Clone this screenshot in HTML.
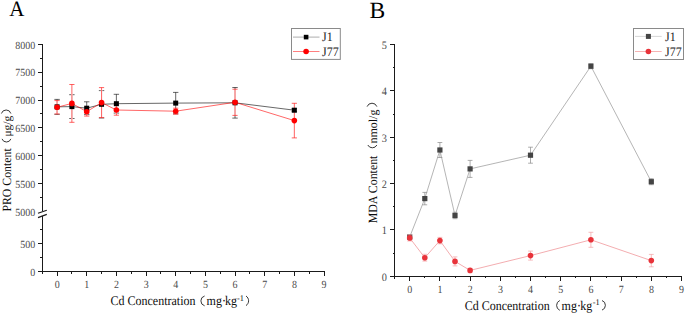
<!DOCTYPE html>
<html><head><meta charset="utf-8"><style>
html,body{margin:0;padding:0;background:#fff;}
body{width:685px;height:314px;overflow:hidden;}
svg{display:block;font-family:"Liberation Serif", serif;text-rendering:geometricPrecision;}
</style></head><body>
<svg width="685" height="314" viewBox="0 0 685 314">
<rect width="685" height="314" fill="#fff"/>
<text x="9.20" y="15.50" font-size="21" text-anchor="start" fill="#000" transform="translate(9.20,15.50) scale(1.0,1.05) translate(-9.20,-15.50)" >A</text>
<line x1="42.50" y1="43.80" x2="42.50" y2="211.00" stroke="#1a1a1a" stroke-width="1"  shape-rendering="crispEdges"/>
<line x1="42.50" y1="216.00" x2="42.50" y2="274.00" stroke="#1a1a1a" stroke-width="1"  shape-rendering="crispEdges"/>
<line x1="38.00" y1="213.30" x2="46.80" y2="210.30" stroke="#1a1a1a" stroke-width="1.2" />
<line x1="38.00" y1="217.60" x2="46.80" y2="214.40" stroke="#1a1a1a" stroke-width="1.2" />
<text x="35.20" y="215.85" font-size="10.0" text-anchor="end" fill="#4a4a4a" transform="translate(35.20,215.85) scale(1.0,1.1) translate(-35.20,-215.85)" >5000</text>
<line x1="40.00" y1="197.61" x2="42.50" y2="197.61" stroke="#1a1a1a" stroke-width="1"  shape-rendering="crispEdges"/>
<line x1="38.00" y1="183.68" x2="42.50" y2="183.68" stroke="#1a1a1a" stroke-width="1"  shape-rendering="crispEdges"/>
<text x="35.20" y="187.98" font-size="10.0" text-anchor="end" fill="#4a4a4a" transform="translate(35.20,187.98) scale(1.0,1.1) translate(-35.20,-187.98)" >5500</text>
<line x1="40.00" y1="169.74" x2="42.50" y2="169.74" stroke="#1a1a1a" stroke-width="1"  shape-rendering="crispEdges"/>
<line x1="38.00" y1="155.80" x2="42.50" y2="155.80" stroke="#1a1a1a" stroke-width="1"  shape-rendering="crispEdges"/>
<text x="35.20" y="160.10" font-size="10.0" text-anchor="end" fill="#4a4a4a" transform="translate(35.20,160.10) scale(1.0,1.1) translate(-35.20,-160.10)" >6000</text>
<line x1="40.00" y1="141.86" x2="42.50" y2="141.86" stroke="#1a1a1a" stroke-width="1"  shape-rendering="crispEdges"/>
<line x1="38.00" y1="127.92" x2="42.50" y2="127.92" stroke="#1a1a1a" stroke-width="1"  shape-rendering="crispEdges"/>
<text x="35.20" y="132.22" font-size="10.0" text-anchor="end" fill="#4a4a4a" transform="translate(35.20,132.22) scale(1.0,1.1) translate(-35.20,-132.22)" >6500</text>
<line x1="40.00" y1="113.99" x2="42.50" y2="113.99" stroke="#1a1a1a" stroke-width="1"  shape-rendering="crispEdges"/>
<line x1="38.00" y1="100.05" x2="42.50" y2="100.05" stroke="#1a1a1a" stroke-width="1"  shape-rendering="crispEdges"/>
<text x="35.20" y="104.35" font-size="10.0" text-anchor="end" fill="#4a4a4a" transform="translate(35.20,104.35) scale(1.0,1.1) translate(-35.20,-104.35)" >7000</text>
<line x1="40.00" y1="86.11" x2="42.50" y2="86.11" stroke="#1a1a1a" stroke-width="1"  shape-rendering="crispEdges"/>
<line x1="38.00" y1="72.17" x2="42.50" y2="72.17" stroke="#1a1a1a" stroke-width="1"  shape-rendering="crispEdges"/>
<text x="35.20" y="76.47" font-size="10.0" text-anchor="end" fill="#4a4a4a" transform="translate(35.20,76.47) scale(1.0,1.1) translate(-35.20,-76.47)" >7500</text>
<line x1="40.00" y1="58.24" x2="42.50" y2="58.24" stroke="#1a1a1a" stroke-width="1"  shape-rendering="crispEdges"/>
<line x1="38.00" y1="44.30" x2="42.50" y2="44.30" stroke="#1a1a1a" stroke-width="1"  shape-rendering="crispEdges"/>
<text x="35.20" y="48.60" font-size="10.0" text-anchor="end" fill="#4a4a4a" transform="translate(35.20,48.60) scale(1.0,1.1) translate(-35.20,-48.60)" >8000</text>
<line x1="38.00" y1="271.70" x2="42.50" y2="271.70" stroke="#1a1a1a" stroke-width="1"  shape-rendering="crispEdges"/>
<text x="35.20" y="276.00" font-size="10.0" text-anchor="end" fill="#4a4a4a" transform="translate(35.20,276.00) scale(1.0,1.1) translate(-35.20,-276.00)" >0</text>
<line x1="40.00" y1="257.70" x2="42.50" y2="257.70" stroke="#1a1a1a" stroke-width="1"  shape-rendering="crispEdges"/>
<line x1="38.00" y1="243.70" x2="42.50" y2="243.70" stroke="#1a1a1a" stroke-width="1"  shape-rendering="crispEdges"/>
<text x="35.20" y="248.00" font-size="10.0" text-anchor="end" fill="#4a4a4a" transform="translate(35.20,248.00) scale(1.0,1.1) translate(-35.20,-248.00)" >500</text>
<line x1="40.00" y1="229.70" x2="42.50" y2="229.70" stroke="#1a1a1a" stroke-width="1"  shape-rendering="crispEdges"/>
<line x1="42.00" y1="271.50" x2="324.80" y2="271.50" stroke="#1a1a1a" stroke-width="1"  shape-rendering="crispEdges"/>
<line x1="57.06" y1="271.50" x2="57.06" y2="275.80" stroke="#1a1a1a" stroke-width="1"  shape-rendering="crispEdges"/>
<text x="57.16" y="287.90" font-size="10.0" text-anchor="middle" fill="#4a4a4a" transform="translate(57.16,287.90) scale(1.0,1.1) translate(-57.16,-287.90)" >0</text>
<line x1="71.89" y1="271.50" x2="71.89" y2="273.50" stroke="#1a1a1a" stroke-width="1"  shape-rendering="crispEdges"/>
<line x1="86.72" y1="271.50" x2="86.72" y2="275.80" stroke="#1a1a1a" stroke-width="1"  shape-rendering="crispEdges"/>
<text x="86.82" y="287.90" font-size="10.0" text-anchor="middle" fill="#4a4a4a" transform="translate(86.82,287.90) scale(1.0,1.1) translate(-86.82,-287.90)" >1</text>
<line x1="101.55" y1="271.50" x2="101.55" y2="273.50" stroke="#1a1a1a" stroke-width="1"  shape-rendering="crispEdges"/>
<line x1="116.38" y1="271.50" x2="116.38" y2="275.80" stroke="#1a1a1a" stroke-width="1"  shape-rendering="crispEdges"/>
<text x="116.48" y="287.90" font-size="10.0" text-anchor="middle" fill="#4a4a4a" transform="translate(116.48,287.90) scale(1.0,1.1) translate(-116.48,-287.90)" >2</text>
<line x1="131.21" y1="271.50" x2="131.21" y2="273.50" stroke="#1a1a1a" stroke-width="1"  shape-rendering="crispEdges"/>
<line x1="146.04" y1="271.50" x2="146.04" y2="275.80" stroke="#1a1a1a" stroke-width="1"  shape-rendering="crispEdges"/>
<text x="146.14" y="287.90" font-size="10.0" text-anchor="middle" fill="#4a4a4a" transform="translate(146.14,287.90) scale(1.0,1.1) translate(-146.14,-287.90)" >3</text>
<line x1="160.87" y1="271.50" x2="160.87" y2="273.50" stroke="#1a1a1a" stroke-width="1"  shape-rendering="crispEdges"/>
<line x1="175.70" y1="271.50" x2="175.70" y2="275.80" stroke="#1a1a1a" stroke-width="1"  shape-rendering="crispEdges"/>
<text x="175.80" y="287.90" font-size="10.0" text-anchor="middle" fill="#4a4a4a" transform="translate(175.80,287.90) scale(1.0,1.1) translate(-175.80,-287.90)" >4</text>
<line x1="190.53" y1="271.50" x2="190.53" y2="273.50" stroke="#1a1a1a" stroke-width="1"  shape-rendering="crispEdges"/>
<line x1="205.36" y1="271.50" x2="205.36" y2="275.80" stroke="#1a1a1a" stroke-width="1"  shape-rendering="crispEdges"/>
<text x="205.46" y="287.90" font-size="10.0" text-anchor="middle" fill="#4a4a4a" transform="translate(205.46,287.90) scale(1.0,1.1) translate(-205.46,-287.90)" >5</text>
<line x1="220.19" y1="271.50" x2="220.19" y2="273.50" stroke="#1a1a1a" stroke-width="1"  shape-rendering="crispEdges"/>
<line x1="235.02" y1="271.50" x2="235.02" y2="275.80" stroke="#1a1a1a" stroke-width="1"  shape-rendering="crispEdges"/>
<text x="235.12" y="287.90" font-size="10.0" text-anchor="middle" fill="#4a4a4a" transform="translate(235.12,287.90) scale(1.0,1.1) translate(-235.12,-287.90)" >6</text>
<line x1="249.85" y1="271.50" x2="249.85" y2="273.50" stroke="#1a1a1a" stroke-width="1"  shape-rendering="crispEdges"/>
<line x1="264.68" y1="271.50" x2="264.68" y2="275.80" stroke="#1a1a1a" stroke-width="1"  shape-rendering="crispEdges"/>
<text x="264.78" y="287.90" font-size="10.0" text-anchor="middle" fill="#4a4a4a" transform="translate(264.78,287.90) scale(1.0,1.1) translate(-264.78,-287.90)" >7</text>
<line x1="279.51" y1="271.50" x2="279.51" y2="273.50" stroke="#1a1a1a" stroke-width="1"  shape-rendering="crispEdges"/>
<line x1="294.34" y1="271.50" x2="294.34" y2="275.80" stroke="#1a1a1a" stroke-width="1"  shape-rendering="crispEdges"/>
<text x="294.44" y="287.90" font-size="10.0" text-anchor="middle" fill="#4a4a4a" transform="translate(294.44,287.90) scale(1.0,1.1) translate(-294.44,-287.90)" >8</text>
<line x1="309.17" y1="271.50" x2="309.17" y2="273.50" stroke="#1a1a1a" stroke-width="1"  shape-rendering="crispEdges"/>
<line x1="324.00" y1="271.50" x2="324.00" y2="275.80" stroke="#1a1a1a" stroke-width="1"  shape-rendering="crispEdges"/>
<text x="324.10" y="287.90" font-size="10.0" text-anchor="middle" fill="#4a4a4a" transform="translate(324.10,287.90) scale(1.0,1.1) translate(-324.10,-287.90)" >9</text>
<text x="110.50" y="305.30" font-size="12" text-anchor="start" fill="#0d0d0d" transform="translate(110.50,305.30) scale(1.0,1.1) translate(-110.50,-305.30)" >Cd Concentration</text>
<path d="M204.60,296.00 A5.09,5.09 0 0 0 204.60,305.80" fill="none" stroke="#222" stroke-width="0.9"/>
<text x="206.60" y="305.30" font-size="12" text-anchor="start" fill="#0d0d0d" transform="translate(206.60,305.30) scale(1.0,1.1) translate(-206.60,-305.30)" >mg·</text>
<text x="225.00" y="305.30" font-size="12" text-anchor="start" fill="#0d0d0d" transform="translate(225.00,305.30) scale(1.0,1.1) translate(-225.00,-305.30)" >kg</text>
<text x="236.90" y="300.60" font-size="8.3" text-anchor="start" fill="#0d0d0d" transform="translate(236.90,300.60) scale(1.0,1.05) translate(-236.90,-300.60)" >-1</text>
<path d="M246.00,296.00 A5.73,5.73 0 0 1 246.00,305.60" fill="none" stroke="#222" stroke-width="0.9"/>
<text x="0" y="0" font-size="11.8" fill="#0d0d0d" transform="translate(11.30,211.60) rotate(-90) scale(1.0,1.06)">PRO Content</text>
<text x="0" y="0" font-size="11.5" fill="#0d0d0d" transform="translate(10.60,136.60) rotate(-90) scale(1.0,1.0)">μg/g</text>
<path d="M2.00,138.90 A4.74,4.74 0 0 0 10.90,138.90" fill="none" stroke="#222" stroke-width="0.9"/>
<path d="M1.40,113.50 A4.97,4.97 0 0 1 10.90,113.50" fill="none" stroke="#222" stroke-width="0.9"/>
<rect x="291.5" y="28.5" width="48.8" height="30.9" fill="#fff" stroke="#8a8a8a" stroke-width="1"/>
<line x1="293.00" y1="37.10" x2="319.50" y2="37.10" stroke="#999999" stroke-width="0.8" />
<rect x="303.8" y="34.8" width="4.6" height="4.6" fill="#000"/>
<text x="322.00" y="41.30" font-size="12" text-anchor="start" fill="#222" transform="translate(322.00,41.30) scale(1.0,1.08) translate(-322.00,-41.30)" >J1</text>
<line x1="293.00" y1="51.50" x2="319.50" y2="51.50" stroke="#ff4848" stroke-width="0.7" />
<circle cx="306.1" cy="51.5" r="2.8" fill="#ff0000"/>
<text x="322.00" y="55.70" font-size="12" text-anchor="start" fill="#222" transform="translate(322.00,55.70) scale(1.0,1.08) translate(-322.00,-55.70)" >J77</text>
<line x1="57.06" y1="99.40" x2="57.06" y2="114.30" stroke="#000" stroke-width="0.6" />
<line x1="54.36" y1="99.40" x2="59.76" y2="99.40" stroke="#000" stroke-width="0.6" />
<line x1="54.36" y1="114.30" x2="59.76" y2="114.30" stroke="#000" stroke-width="0.6" />
<line x1="71.89" y1="94.70" x2="71.89" y2="118.50" stroke="#000" stroke-width="0.6" />
<line x1="69.19" y1="94.70" x2="74.59" y2="94.70" stroke="#000" stroke-width="0.6" />
<line x1="69.19" y1="118.50" x2="74.59" y2="118.50" stroke="#000" stroke-width="0.6" />
<line x1="86.72" y1="101.80" x2="86.72" y2="114.60" stroke="#000" stroke-width="0.6" />
<line x1="84.02" y1="101.80" x2="89.42" y2="101.80" stroke="#000" stroke-width="0.6" />
<line x1="84.02" y1="114.60" x2="89.42" y2="114.60" stroke="#000" stroke-width="0.6" />
<line x1="101.55" y1="90.60" x2="101.55" y2="118.00" stroke="#000" stroke-width="0.6" />
<line x1="98.85" y1="90.60" x2="104.25" y2="90.60" stroke="#000" stroke-width="0.6" />
<line x1="98.85" y1="118.00" x2="104.25" y2="118.00" stroke="#000" stroke-width="0.6" />
<line x1="116.38" y1="94.30" x2="116.38" y2="113.10" stroke="#000" stroke-width="0.6" />
<line x1="113.68" y1="94.30" x2="119.08" y2="94.30" stroke="#000" stroke-width="0.6" />
<line x1="113.68" y1="113.10" x2="119.08" y2="113.10" stroke="#000" stroke-width="0.6" />
<line x1="175.70" y1="92.40" x2="175.70" y2="113.80" stroke="#000" stroke-width="0.6" />
<line x1="173.00" y1="92.40" x2="178.40" y2="92.40" stroke="#000" stroke-width="0.6" />
<line x1="173.00" y1="113.80" x2="178.40" y2="113.80" stroke="#000" stroke-width="0.6" />
<line x1="235.02" y1="87.50" x2="235.02" y2="118.10" stroke="#000" stroke-width="0.6" />
<line x1="232.32" y1="87.50" x2="237.72" y2="87.50" stroke="#000" stroke-width="0.6" />
<line x1="232.32" y1="118.10" x2="237.72" y2="118.10" stroke="#000" stroke-width="0.6" />
<line x1="294.34" y1="108.70" x2="294.34" y2="111.70" stroke="#000" stroke-width="0.6" />
<line x1="291.64" y1="108.70" x2="297.04" y2="108.70" stroke="#000" stroke-width="0.6" />
<line x1="291.64" y1="111.70" x2="297.04" y2="111.70" stroke="#000" stroke-width="0.6" />
<line x1="57.06" y1="100.60" x2="57.06" y2="114.00" stroke="#fff" stroke-width="1.6" />
<line x1="57.06" y1="100.60" x2="57.06" y2="114.00" stroke="#ff2020" stroke-width="0.7" />
<line x1="54.46" y1="100.60" x2="59.66" y2="100.60" stroke="#ff2020" stroke-width="0.7" />
<line x1="54.46" y1="114.00" x2="59.66" y2="114.00" stroke="#ff2020" stroke-width="0.7" />
<line x1="71.89" y1="84.50" x2="71.89" y2="122.30" stroke="#fff" stroke-width="1.6" />
<line x1="71.89" y1="84.50" x2="71.89" y2="122.30" stroke="#ff2020" stroke-width="0.7" />
<line x1="69.29" y1="84.50" x2="74.49" y2="84.50" stroke="#ff2020" stroke-width="0.7" />
<line x1="69.29" y1="122.30" x2="74.49" y2="122.30" stroke="#ff2020" stroke-width="0.7" />
<line x1="86.72" y1="107.30" x2="86.72" y2="116.10" stroke="#fff" stroke-width="1.6" />
<line x1="86.72" y1="107.30" x2="86.72" y2="116.10" stroke="#ff2020" stroke-width="0.7" />
<line x1="84.12" y1="107.30" x2="89.32" y2="107.30" stroke="#ff2020" stroke-width="0.7" />
<line x1="84.12" y1="116.10" x2="89.32" y2="116.10" stroke="#ff2020" stroke-width="0.7" />
<line x1="101.55" y1="87.60" x2="101.55" y2="117.60" stroke="#fff" stroke-width="1.6" />
<line x1="101.55" y1="87.60" x2="101.55" y2="117.60" stroke="#ff2020" stroke-width="0.7" />
<line x1="98.95" y1="87.60" x2="104.15" y2="87.60" stroke="#ff2020" stroke-width="0.7" />
<line x1="98.95" y1="117.60" x2="104.15" y2="117.60" stroke="#ff2020" stroke-width="0.7" />
<line x1="116.38" y1="104.80" x2="116.38" y2="115.20" stroke="#fff" stroke-width="1.6" />
<line x1="116.38" y1="104.80" x2="116.38" y2="115.20" stroke="#ff2020" stroke-width="0.7" />
<line x1="113.78" y1="104.80" x2="118.98" y2="104.80" stroke="#ff2020" stroke-width="0.7" />
<line x1="113.78" y1="115.20" x2="118.98" y2="115.20" stroke="#ff2020" stroke-width="0.7" />
<line x1="175.70" y1="108.20" x2="175.70" y2="114.20" stroke="#fff" stroke-width="1.6" />
<line x1="175.70" y1="108.20" x2="175.70" y2="114.20" stroke="#ff2020" stroke-width="0.7" />
<line x1="173.10" y1="108.20" x2="178.30" y2="108.20" stroke="#ff2020" stroke-width="0.7" />
<line x1="173.10" y1="114.20" x2="178.30" y2="114.20" stroke="#ff2020" stroke-width="0.7" />
<line x1="235.02" y1="89.20" x2="235.02" y2="115.40" stroke="#fff" stroke-width="1.6" />
<line x1="235.02" y1="89.20" x2="235.02" y2="115.40" stroke="#ff2020" stroke-width="0.7" />
<line x1="232.42" y1="89.20" x2="237.62" y2="89.20" stroke="#ff2020" stroke-width="0.7" />
<line x1="232.42" y1="115.40" x2="237.62" y2="115.40" stroke="#ff2020" stroke-width="0.7" />
<line x1="294.34" y1="103.30" x2="294.34" y2="137.90" stroke="#fff" stroke-width="1.6" />
<line x1="294.34" y1="103.30" x2="294.34" y2="137.90" stroke="#ff2020" stroke-width="0.7" />
<line x1="291.74" y1="103.30" x2="296.94" y2="103.30" stroke="#ff2020" stroke-width="0.7" />
<line x1="291.74" y1="137.90" x2="296.94" y2="137.90" stroke="#ff2020" stroke-width="0.7" />
<polyline points="57.06,106.85 71.89,106.60 86.72,108.20 101.55,104.30 116.38,103.70 175.70,103.10 235.02,102.80 294.34,110.20" fill="none" stroke="#000" stroke-width="0.6"/>
<polyline points="57.06,107.30 71.89,103.40 86.72,111.70 101.55,102.60 116.38,110.00 175.70,111.20 235.02,102.30 294.34,120.60" fill="none" stroke="#ff0000" stroke-width="0.6"/>
<rect x="54.56" y="104.35" width="5.0" height="5.0" fill="#000"/>
<rect x="69.39" y="104.10" width="5.0" height="5.0" fill="#000"/>
<rect x="84.22" y="105.70" width="5.0" height="5.0" fill="#000"/>
<rect x="99.05" y="101.80" width="5.0" height="5.0" fill="#000"/>
<rect x="113.88" y="101.20" width="5.0" height="5.0" fill="#000"/>
<rect x="173.20" y="100.60" width="5.0" height="5.0" fill="#000"/>
<rect x="232.52" y="100.30" width="5.0" height="5.0" fill="#000"/>
<rect x="291.84" y="107.70" width="5.0" height="5.0" fill="#000"/>
<circle cx="57.06" cy="107.30" r="2.8" fill="#ff0000"/>
<circle cx="71.89" cy="103.40" r="2.8" fill="#ff0000"/>
<circle cx="86.72" cy="111.70" r="2.8" fill="#ff0000"/>
<circle cx="101.55" cy="102.60" r="2.8" fill="#ff0000"/>
<circle cx="116.38" cy="110.00" r="2.8" fill="#ff0000"/>
<circle cx="175.70" cy="111.20" r="2.8" fill="#ff0000"/>
<circle cx="235.02" cy="102.30" r="2.8" fill="#ff0000"/>
<circle cx="294.34" cy="120.60" r="2.8" fill="#ff0000"/>
<text x="369.60" y="17.90" font-size="22" text-anchor="start" fill="#000" transform="translate(369.60,17.90) scale(1.07,1.055) translate(-369.60,-17.90)" >B</text>
<line x1="394.50" y1="44.00" x2="394.50" y2="278.50" stroke="#1a1a1a" stroke-width="1"  shape-rendering="crispEdges"/>
<line x1="390.00" y1="276.30" x2="394.50" y2="276.30" stroke="#1a1a1a" stroke-width="1"  shape-rendering="crispEdges"/>
<text x="386.90" y="280.60" font-size="10.3" text-anchor="end" fill="#4a4a4a" transform="translate(386.90,280.60) scale(1.0,1.1) translate(-386.90,-280.60)" >0</text>
<line x1="392.50" y1="253.12" x2="394.50" y2="253.12" stroke="#1a1a1a" stroke-width="1"  shape-rendering="crispEdges"/>
<line x1="390.00" y1="229.94" x2="394.50" y2="229.94" stroke="#1a1a1a" stroke-width="1"  shape-rendering="crispEdges"/>
<text x="386.90" y="234.24" font-size="10.3" text-anchor="end" fill="#4a4a4a" transform="translate(386.90,234.24) scale(1.0,1.1) translate(-386.90,-234.24)" >1</text>
<line x1="392.50" y1="206.76" x2="394.50" y2="206.76" stroke="#1a1a1a" stroke-width="1"  shape-rendering="crispEdges"/>
<line x1="390.00" y1="183.58" x2="394.50" y2="183.58" stroke="#1a1a1a" stroke-width="1"  shape-rendering="crispEdges"/>
<text x="386.90" y="187.88" font-size="10.3" text-anchor="end" fill="#4a4a4a" transform="translate(386.90,187.88) scale(1.0,1.1) translate(-386.90,-187.88)" >2</text>
<line x1="392.50" y1="160.40" x2="394.50" y2="160.40" stroke="#1a1a1a" stroke-width="1"  shape-rendering="crispEdges"/>
<line x1="390.00" y1="137.22" x2="394.50" y2="137.22" stroke="#1a1a1a" stroke-width="1"  shape-rendering="crispEdges"/>
<text x="386.90" y="141.52" font-size="10.3" text-anchor="end" fill="#4a4a4a" transform="translate(386.90,141.52) scale(1.0,1.1) translate(-386.90,-141.52)" >3</text>
<line x1="392.50" y1="114.04" x2="394.50" y2="114.04" stroke="#1a1a1a" stroke-width="1"  shape-rendering="crispEdges"/>
<line x1="390.00" y1="90.86" x2="394.50" y2="90.86" stroke="#1a1a1a" stroke-width="1"  shape-rendering="crispEdges"/>
<text x="386.90" y="95.16" font-size="10.3" text-anchor="end" fill="#4a4a4a" transform="translate(386.90,95.16) scale(1.0,1.1) translate(-386.90,-95.16)" >4</text>
<line x1="392.50" y1="67.68" x2="394.50" y2="67.68" stroke="#1a1a1a" stroke-width="1"  shape-rendering="crispEdges"/>
<line x1="390.00" y1="44.50" x2="394.50" y2="44.50" stroke="#1a1a1a" stroke-width="1"  shape-rendering="crispEdges"/>
<text x="386.90" y="48.80" font-size="10.3" text-anchor="end" fill="#4a4a4a" transform="translate(386.90,48.80) scale(1.0,1.1) translate(-386.90,-48.80)" >5</text>
<line x1="394.00" y1="276.30" x2="682.20" y2="276.30" stroke="#1a1a1a" stroke-width="1"  shape-rendering="crispEdges"/>
<line x1="409.70" y1="276.30" x2="409.70" y2="280.60" stroke="#1a1a1a" stroke-width="1"  shape-rendering="crispEdges"/>
<text x="409.80" y="292.90" font-size="10.0" text-anchor="middle" fill="#4a4a4a" transform="translate(409.80,292.90) scale(1.0,1.1) translate(-409.80,-292.90)" >0</text>
<line x1="424.80" y1="276.30" x2="424.80" y2="278.30" stroke="#1a1a1a" stroke-width="1"  shape-rendering="crispEdges"/>
<line x1="439.90" y1="276.30" x2="439.90" y2="280.60" stroke="#1a1a1a" stroke-width="1"  shape-rendering="crispEdges"/>
<text x="440.00" y="292.90" font-size="10.0" text-anchor="middle" fill="#4a4a4a" transform="translate(440.00,292.90) scale(1.0,1.1) translate(-440.00,-292.90)" >1</text>
<line x1="455.00" y1="276.30" x2="455.00" y2="278.30" stroke="#1a1a1a" stroke-width="1"  shape-rendering="crispEdges"/>
<line x1="470.10" y1="276.30" x2="470.10" y2="280.60" stroke="#1a1a1a" stroke-width="1"  shape-rendering="crispEdges"/>
<text x="470.20" y="292.90" font-size="10.0" text-anchor="middle" fill="#4a4a4a" transform="translate(470.20,292.90) scale(1.0,1.1) translate(-470.20,-292.90)" >2</text>
<line x1="485.20" y1="276.30" x2="485.20" y2="278.30" stroke="#1a1a1a" stroke-width="1"  shape-rendering="crispEdges"/>
<line x1="500.30" y1="276.30" x2="500.30" y2="280.60" stroke="#1a1a1a" stroke-width="1"  shape-rendering="crispEdges"/>
<text x="500.40" y="292.90" font-size="10.0" text-anchor="middle" fill="#4a4a4a" transform="translate(500.40,292.90) scale(1.0,1.1) translate(-500.40,-292.90)" >3</text>
<line x1="515.40" y1="276.30" x2="515.40" y2="278.30" stroke="#1a1a1a" stroke-width="1"  shape-rendering="crispEdges"/>
<line x1="530.50" y1="276.30" x2="530.50" y2="280.60" stroke="#1a1a1a" stroke-width="1"  shape-rendering="crispEdges"/>
<text x="530.60" y="292.90" font-size="10.0" text-anchor="middle" fill="#4a4a4a" transform="translate(530.60,292.90) scale(1.0,1.1) translate(-530.60,-292.90)" >4</text>
<line x1="545.60" y1="276.30" x2="545.60" y2="278.30" stroke="#1a1a1a" stroke-width="1"  shape-rendering="crispEdges"/>
<line x1="560.70" y1="276.30" x2="560.70" y2="280.60" stroke="#1a1a1a" stroke-width="1"  shape-rendering="crispEdges"/>
<text x="560.80" y="292.90" font-size="10.0" text-anchor="middle" fill="#4a4a4a" transform="translate(560.80,292.90) scale(1.0,1.1) translate(-560.80,-292.90)" >5</text>
<line x1="575.80" y1="276.30" x2="575.80" y2="278.30" stroke="#1a1a1a" stroke-width="1"  shape-rendering="crispEdges"/>
<line x1="590.90" y1="276.30" x2="590.90" y2="280.60" stroke="#1a1a1a" stroke-width="1"  shape-rendering="crispEdges"/>
<text x="591.00" y="292.90" font-size="10.0" text-anchor="middle" fill="#4a4a4a" transform="translate(591.00,292.90) scale(1.0,1.1) translate(-591.00,-292.90)" >6</text>
<line x1="606.00" y1="276.30" x2="606.00" y2="278.30" stroke="#1a1a1a" stroke-width="1"  shape-rendering="crispEdges"/>
<line x1="621.10" y1="276.30" x2="621.10" y2="280.60" stroke="#1a1a1a" stroke-width="1"  shape-rendering="crispEdges"/>
<text x="621.20" y="292.90" font-size="10.0" text-anchor="middle" fill="#4a4a4a" transform="translate(621.20,292.90) scale(1.0,1.1) translate(-621.20,-292.90)" >7</text>
<line x1="636.20" y1="276.30" x2="636.20" y2="278.30" stroke="#1a1a1a" stroke-width="1"  shape-rendering="crispEdges"/>
<line x1="651.30" y1="276.30" x2="651.30" y2="280.60" stroke="#1a1a1a" stroke-width="1"  shape-rendering="crispEdges"/>
<text x="651.40" y="292.90" font-size="10.0" text-anchor="middle" fill="#4a4a4a" transform="translate(651.40,292.90) scale(1.0,1.1) translate(-651.40,-292.90)" >8</text>
<line x1="666.40" y1="276.30" x2="666.40" y2="278.30" stroke="#1a1a1a" stroke-width="1"  shape-rendering="crispEdges"/>
<line x1="681.50" y1="276.30" x2="681.50" y2="280.60" stroke="#1a1a1a" stroke-width="1"  shape-rendering="crispEdges"/>
<text x="681.60" y="292.90" font-size="10.0" text-anchor="middle" fill="#4a4a4a" transform="translate(681.60,292.90) scale(1.0,1.1) translate(-681.60,-292.90)" >9</text>
<text x="464.70" y="309.80" font-size="12" text-anchor="start" fill="#0d0d0d" transform="translate(464.70,309.80) scale(1.0,1.1) translate(-464.70,-309.80)" >Cd Concentration</text>
<path d="M559.80,300.50 A5.35,5.35 0 0 0 559.80,310.30" fill="none" stroke="#222" stroke-width="0.9"/>
<text x="561.60" y="309.80" font-size="12" text-anchor="start" fill="#0d0d0d" transform="translate(561.60,309.80) scale(1.0,1.1) translate(-561.60,-309.80)" >mg·</text>
<text x="580.30" y="309.80" font-size="12" text-anchor="start" fill="#0d0d0d" transform="translate(580.30,309.80) scale(1.0,1.1) translate(-580.30,-309.80)" >kg</text>
<text x="592.80" y="305.10" font-size="8.3" text-anchor="start" fill="#0d0d0d" transform="translate(592.80,305.10) scale(1.0,1.05) translate(-592.80,-305.10)" >-1</text>
<path d="M602.00,300.50 A5.09,5.09 0 0 1 602.00,310.10" fill="none" stroke="#222" stroke-width="0.9"/>
<text x="0" y="0" font-size="11.9" fill="#0d0d0d" transform="translate(376.80,223.30) rotate(-90) scale(1.0,1.06)">MDA Content</text>
<text x="0" y="0" font-size="12" fill="#0d0d0d" transform="translate(377.00,143.60) rotate(-90) scale(1.0,1.0)">nmol/g</text>
<path d="M367.80,145.00 A5.10,5.10 0 0 0 376.90,145.00" fill="none" stroke="#222" stroke-width="0.9"/>
<path d="M367.10,106.60 A5.23,5.23 0 0 1 376.90,106.60" fill="none" stroke="#222" stroke-width="0.9"/>
<rect x="633.5" y="28.5" width="50" height="31" fill="#fff" stroke="#8a8a8a" stroke-width="1"/>
<line x1="635.00" y1="36.40" x2="661.70" y2="36.40" stroke="#cccccc" stroke-width="0.8" />
<rect x="645.9" y="33.9" width="5" height="5" fill="#444"/>
<text x="665.00" y="40.60" font-size="12" text-anchor="start" fill="#222" transform="translate(665.00,40.60) scale(1.0,1.08) translate(-665.00,-40.60)" >J1</text>
<line x1="635.00" y1="51.50" x2="661.70" y2="51.50" stroke="#f4a0a0" stroke-width="0.8" />
<circle cx="648.4" cy="51.5" r="2.8" fill="#e8333a"/>
<text x="665.00" y="55.70" font-size="12" text-anchor="start" fill="#222" transform="translate(665.00,55.70) scale(1.0,1.08) translate(-665.00,-55.70)" >J77</text>
<line x1="409.70" y1="235.00" x2="409.70" y2="239.00" stroke="#8a8a8a" stroke-width="0.7" />
<line x1="407.30" y1="235.00" x2="412.10" y2="235.00" stroke="#8a8a8a" stroke-width="0.7" />
<line x1="407.30" y1="239.00" x2="412.10" y2="239.00" stroke="#8a8a8a" stroke-width="0.7" />
<line x1="424.80" y1="192.40" x2="424.80" y2="204.80" stroke="#8a8a8a" stroke-width="0.7" />
<line x1="422.40" y1="192.40" x2="427.20" y2="192.40" stroke="#8a8a8a" stroke-width="0.7" />
<line x1="422.40" y1="204.80" x2="427.20" y2="204.80" stroke="#8a8a8a" stroke-width="0.7" />
<line x1="439.90" y1="142.50" x2="439.90" y2="157.50" stroke="#8a8a8a" stroke-width="0.7" />
<line x1="437.50" y1="142.50" x2="442.30" y2="142.50" stroke="#8a8a8a" stroke-width="0.7" />
<line x1="437.50" y1="157.50" x2="442.30" y2="157.50" stroke="#8a8a8a" stroke-width="0.7" />
<line x1="455.00" y1="212.30" x2="455.00" y2="218.70" stroke="#8a8a8a" stroke-width="0.7" />
<line x1="452.60" y1="212.30" x2="457.40" y2="212.30" stroke="#8a8a8a" stroke-width="0.7" />
<line x1="452.60" y1="218.70" x2="457.40" y2="218.70" stroke="#8a8a8a" stroke-width="0.7" />
<line x1="470.10" y1="160.40" x2="470.10" y2="177.40" stroke="#8a8a8a" stroke-width="0.7" />
<line x1="467.70" y1="160.40" x2="472.50" y2="160.40" stroke="#8a8a8a" stroke-width="0.7" />
<line x1="467.70" y1="177.40" x2="472.50" y2="177.40" stroke="#8a8a8a" stroke-width="0.7" />
<line x1="530.50" y1="147.20" x2="530.50" y2="163.20" stroke="#8a8a8a" stroke-width="0.7" />
<line x1="528.10" y1="147.20" x2="532.90" y2="147.20" stroke="#8a8a8a" stroke-width="0.7" />
<line x1="528.10" y1="163.20" x2="532.90" y2="163.20" stroke="#8a8a8a" stroke-width="0.7" />
<line x1="590.90" y1="63.70" x2="590.90" y2="68.70" stroke="#8a8a8a" stroke-width="0.7" />
<line x1="588.50" y1="63.70" x2="593.30" y2="63.70" stroke="#8a8a8a" stroke-width="0.7" />
<line x1="588.50" y1="68.70" x2="593.30" y2="68.70" stroke="#8a8a8a" stroke-width="0.7" />
<line x1="651.30" y1="178.70" x2="651.30" y2="184.70" stroke="#8a8a8a" stroke-width="0.7" />
<line x1="648.90" y1="178.70" x2="653.70" y2="178.70" stroke="#8a8a8a" stroke-width="0.7" />
<line x1="648.90" y1="184.70" x2="653.70" y2="184.70" stroke="#8a8a8a" stroke-width="0.7" />
<polyline points="409.70,237.00 424.80,198.60 439.90,150.00 455.00,215.50 470.10,168.90 530.50,155.20 590.90,66.20 651.30,181.70" fill="none" stroke="#8c8c8c" stroke-width="0.65"/>
<rect x="407.10" y="234.40" width="5.2" height="5.2" fill="#444"/>
<rect x="422.20" y="196.00" width="5.2" height="5.2" fill="#444"/>
<rect x="437.30" y="147.40" width="5.2" height="5.2" fill="#444"/>
<rect x="452.40" y="212.90" width="5.2" height="5.2" fill="#444"/>
<rect x="467.50" y="166.30" width="5.2" height="5.2" fill="#444"/>
<rect x="527.90" y="152.60" width="5.2" height="5.2" fill="#444"/>
<rect x="588.30" y="63.60" width="5.2" height="5.2" fill="#444"/>
<rect x="648.70" y="179.10" width="5.2" height="5.2" fill="#444"/>
<line x1="409.70" y1="234.80" x2="409.70" y2="241.00" stroke="#f2a0a4" stroke-width="0.7" />
<line x1="407.30" y1="234.80" x2="412.10" y2="234.80" stroke="#f2a0a4" stroke-width="0.7" />
<line x1="407.30" y1="241.00" x2="412.10" y2="241.00" stroke="#f2a0a4" stroke-width="0.7" />
<line x1="424.80" y1="254.30" x2="424.80" y2="261.10" stroke="#f2a0a4" stroke-width="0.7" />
<line x1="422.40" y1="254.30" x2="427.20" y2="254.30" stroke="#f2a0a4" stroke-width="0.7" />
<line x1="422.40" y1="261.10" x2="427.20" y2="261.10" stroke="#f2a0a4" stroke-width="0.7" />
<line x1="439.90" y1="237.40" x2="439.90" y2="243.80" stroke="#f2a0a4" stroke-width="0.7" />
<line x1="437.50" y1="237.40" x2="442.30" y2="237.40" stroke="#f2a0a4" stroke-width="0.7" />
<line x1="437.50" y1="243.80" x2="442.30" y2="243.80" stroke="#f2a0a4" stroke-width="0.7" />
<line x1="455.00" y1="256.90" x2="455.00" y2="265.90" stroke="#f2a0a4" stroke-width="0.7" />
<line x1="452.60" y1="256.90" x2="457.40" y2="256.90" stroke="#f2a0a4" stroke-width="0.7" />
<line x1="452.60" y1="265.90" x2="457.40" y2="265.90" stroke="#f2a0a4" stroke-width="0.7" />
<line x1="470.10" y1="268.40" x2="470.10" y2="272.40" stroke="#f2a0a4" stroke-width="0.7" />
<line x1="467.70" y1="268.40" x2="472.50" y2="268.40" stroke="#f2a0a4" stroke-width="0.7" />
<line x1="467.70" y1="272.40" x2="472.50" y2="272.40" stroke="#f2a0a4" stroke-width="0.7" />
<line x1="530.50" y1="251.10" x2="530.50" y2="260.10" stroke="#f2a0a4" stroke-width="0.7" />
<line x1="528.10" y1="251.10" x2="532.90" y2="251.10" stroke="#f2a0a4" stroke-width="0.7" />
<line x1="528.10" y1="260.10" x2="532.90" y2="260.10" stroke="#f2a0a4" stroke-width="0.7" />
<line x1="590.90" y1="232.30" x2="590.90" y2="247.30" stroke="#f2a0a4" stroke-width="0.7" />
<line x1="588.50" y1="232.30" x2="593.30" y2="232.30" stroke="#f2a0a4" stroke-width="0.7" />
<line x1="588.50" y1="247.30" x2="593.30" y2="247.30" stroke="#f2a0a4" stroke-width="0.7" />
<line x1="651.30" y1="254.40" x2="651.30" y2="266.80" stroke="#f2a0a4" stroke-width="0.7" />
<line x1="648.90" y1="254.40" x2="653.70" y2="254.40" stroke="#f2a0a4" stroke-width="0.7" />
<line x1="648.90" y1="266.80" x2="653.70" y2="266.80" stroke="#f2a0a4" stroke-width="0.7" />
<polyline points="409.70,237.90 424.80,257.70 439.90,240.60 455.00,261.40 470.10,270.40 530.50,255.60 590.90,239.80 651.30,260.60" fill="none" stroke="#ee8a8e" stroke-width="0.7"/>
<circle cx="409.70" cy="237.90" r="2.8" fill="#e8333a"/>
<circle cx="424.80" cy="257.70" r="2.8" fill="#e8333a"/>
<circle cx="439.90" cy="240.60" r="2.8" fill="#e8333a"/>
<circle cx="455.00" cy="261.40" r="2.8" fill="#e8333a"/>
<circle cx="470.10" cy="270.40" r="2.8" fill="#e8333a"/>
<circle cx="530.50" cy="255.60" r="2.8" fill="#e8333a"/>
<circle cx="590.90" cy="239.80" r="2.8" fill="#e8333a"/>
<circle cx="651.30" cy="260.60" r="2.8" fill="#e8333a"/>
</svg>
</body></html>
